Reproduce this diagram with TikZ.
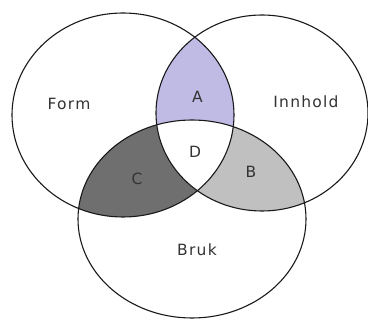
\documentclass[tikz,border=0pt]{standalone}
\usepackage{fontspec}
\setmainfont{DejaVu Sans}[LetterSpace=8]
\definecolor{lav}{RGB}{191,187,229}
\definecolor{darkg}{RGB}{111,111,111}
\definecolor{lightg}{RGB}{192,192,192}
\definecolor{edge}{RGB}{25,25,25}
\begin{document}
\begin{tikzpicture}[x=1pt,y=-1pt,
  lbl/.style={font=\fontsize{15.5}{18}\selectfont, text=black!80, inner sep=0pt},
  outline/.style={draw=edge, line width=1.1pt}]
\useasboundingbox (0,0) rectangle (368,320);
\def\formE{(123,115) ellipse [x radius=111pt, y radius=102pt]}
\def\innE{(262,113) ellipse [x radius=106pt, y radius=98pt]}
\def\brukE{(192,219) ellipse [x radius=114pt, y radius=99pt]}
% A region
\begin{scope}
  \clip \formE; \clip \innE;
  \fill[lav] (0,0) rectangle (368,320);
\end{scope}
% C region
\begin{scope}
  \clip \formE; \clip \brukE;
  \fill[darkg] (0,0) rectangle (368,320);
\end{scope}
% B region
\begin{scope}
  \clip \innE; \clip \brukE;
  \fill[lightg] (0,0) rectangle (368,320);
\end{scope}
% D region
\begin{scope}
  \clip \formE; \clip \innE; \clip \brukE;
  \fill[white] (0,0) rectangle (368,320);
\end{scope}
\draw[outline] \formE;
\draw[outline] \innE;
\draw[outline] \brukE;
\node[lbl] (form) at (69,104) {Form};
\node[lbl] (innhold) at (306,102) {Innhold};
\node[lbl] (bruk) at (197,250) {Bruk};
\node[lbl] (a) at (197.5,97) {A};
\node[lbl] (d) at (195,152) {D};
\node[lbl] (c) at (137,179) {C};
\node[lbl] (b) at (251,172) {B};
\end{tikzpicture}
\end{document}
